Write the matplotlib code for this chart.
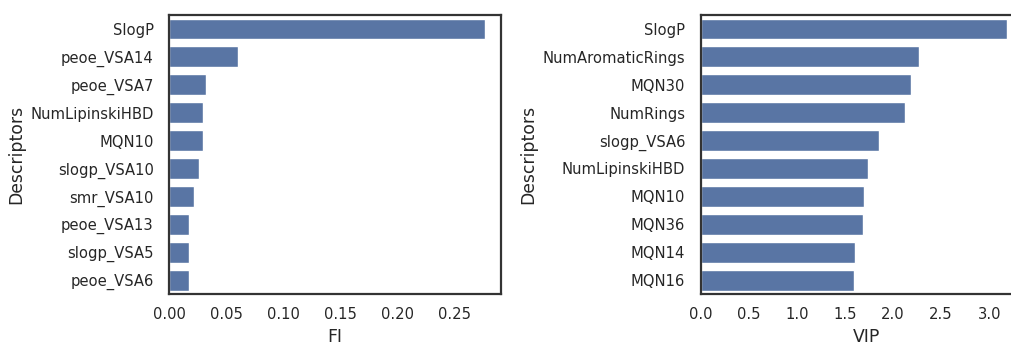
import matplotlib
matplotlib.use("Agg")
import matplotlib.pyplot as plt
import seaborn as sns

# feature importance (random forest) and VIP scores (PLS) for the top descriptors
fi_names = ["SlogP", "peoe_VSA14", "peoe_VSA7", "NumLipinskiHBD", "MQN10",
            "slogp_VSA10", "smr_VSA10", "peoe_VSA13", "slogp_VSA5", "peoe_VSA6"]
fi_values = [0.277, 0.0608, 0.0322, 0.0301, 0.0296,
             0.0266, 0.0217, 0.0173, 0.0173, 0.0173]

vip_names = ["SlogP", "NumAromaticRings", "MQN30", "NumRings", "slogp_VSA6",
             "NumLipinskiHBD", "MQN10", "MQN36", "MQN14", "MQN16"]
vip_values = [3.19, 2.27, 2.19, 2.13, 1.85, 1.74, 1.70, 1.69, 1.61, 1.60]

fi_ticks = [0.00, 0.05, 0.10, 0.15, 0.20, 0.25]
vip_ticks = [0.0, 0.5, 1.0, 1.5, 2.0, 2.5, 3.0]


def main():
    sns.set_style("white")
    plt.rcParams["font.family"] = ["DejaVu Sans"]

    fig = plt.figure(figsize=(10.12, 3.47), dpi=100)
    ax1 = fig.add_axes([0.167, 0.1527, 0.328, 0.804])
    ax2 = fig.add_axes([0.6922, 0.1527, 0.328, 0.804])

    panels = [
        (ax1, fi_names, fi_values, "FI", fi_ticks, 0.291, ["%.2f" % t for t in fi_ticks]),
        (ax2, vip_names, vip_values, "VIP", vip_ticks, 3.45, ["%.1f" % t for t in vip_ticks]),
    ]

    for ax, names, values, xlabel, ticks, xmax, ticklabels in panels:
        sns.barplot(x=values, y=names, color="#4c72b0", saturation=0.75,
                    orient="h", width=0.75, ax=ax)
        ax.set_xlim(0, xmax)
        ax.set_xticks(ticks)
        ax.set_xticklabels(ticklabels)
        ax.set_xlabel(xlabel, fontsize=12.4)
        ax.set_ylabel("Descriptors", fontsize=12.4)
        ax.tick_params(axis="x", length=0, pad=9.5, labelsize=10.6, labelcolor="#262626")
        ax.tick_params(axis="y", length=0, pad=11, labelsize=10.6, labelcolor="#262626")
        for sp in ax.spines.values():
            sp.set_color("#333333")
            sp.set_linewidth(1.6)

    fig.savefig("out.png", dpi=100)


if __name__ == "__main__":
    main()
